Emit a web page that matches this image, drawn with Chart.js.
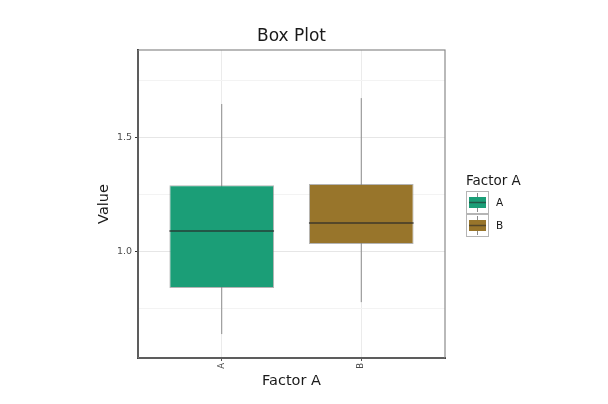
<!DOCTYPE html>
<html>
<head>
<meta charset="utf-8">
<script src="https://cdn.jsdelivr.net/npm/chart.js@4/dist/chart.umd.min.js"></script>
<style>
  html, body { margin: 0; padding: 0; background: #fff; }
  #wrap { width: 608px; height: 404px; }
</style>
</head>
<body>
<div id="wrap"><canvas id="chart"></canvas></div>
<script>
// box plot data
const categories = ['A', 'B'];
const mins = [0.636, 0.776];
const q1s = [0.838, 1.031];
const medians = [1.088, 1.123];
const q3s = [1.289, 1.294];
const maxs = [1.645, 1.671];
const fills = ['#1b9e77', '#98752b'];

const yTicks = [0.75, 1.0, 1.25, 1.5, 1.75];
const yLabels = [1.0, 1.5];

const halfBox = 0.375;
const isMajor = v => yLabels.some(l => Math.abs(l - v) < 1e-9);

// whisker and median segments, separated by null gaps
const whiskers = [];
const medianLines = [];
categories.forEach((c, i) => {
  const x = i + 1;
  whiskers.push({ x: x, y: mins[i] }, { x: x, y: maxs[i] }, { x: x + 0.5, y: null });
  medianLines.push({ x: x - halfBox, y: medians[i] }, { x: x + halfBox, y: medians[i] }, { x: x + 0.5, y: null });
});

const panelBorder = {
  id: 'panelBorder',
  beforeDatasetsDraw(chart) {
    const { ctx, chartArea: a } = chart;
    ctx.save();
    ctx.strokeStyle = '#8a8a8a';
    ctx.lineWidth = 1.2;
    ctx.strokeRect(a.left, a.top, a.right - a.left, a.bottom - a.top);
    ctx.restore();
  }
};

const sideLegend = {
  id: 'sideLegend',
  afterDraw(chart) {
    const ctx = chart.ctx;
    ctx.save();
    ctx.fillStyle = '#1a1a1a';
    ctx.font = '13.5px "DejaVu Sans"';
    ctx.textBaseline = 'alphabetic';
    ctx.fillText('Factor A', 466, 185);
    categories.forEach((c, i) => {
      const top = 191 + i * 23;
      ctx.strokeStyle = '#b5b5b5';
      ctx.lineWidth = 1;
      ctx.strokeRect(466.5, top + 0.5, 22, 22);
      ctx.strokeStyle = '#8a8a8a';
      ctx.beginPath();
      ctx.moveTo(477.5, top + 2);
      ctx.lineTo(477.5, top + 21);
      ctx.stroke();
      ctx.fillStyle = fills[i];
      ctx.fillRect(469, top + 6, 17, 11);
      ctx.strokeStyle = 'rgba(40,40,40,0.6)';
      ctx.lineWidth = 1.5;
      ctx.beginPath();
      ctx.moveTo(469, top + 11.5);
      ctx.lineTo(486, top + 11.5);
      ctx.stroke();
      ctx.fillStyle = '#1a1a1a';
      ctx.font = '10.5px "DejaVu Sans"';
      ctx.textBaseline = 'middle';
      ctx.fillText(c, 496, top + 12);
    });
    ctx.restore();
  }
};

const ctx = document.getElementById('chart').getContext('2d');
new Chart(ctx, {
  data: {
    datasets: [
      {
        type: 'line',
        data: whiskers,
        borderColor: '#8c8c8c',
        borderWidth: 1,
        pointRadius: 0,
        spanGaps: false,
        order: 3
      },
      {
        type: 'bar',
        data: categories.map((c, i) => ({ x: i + 1, y: [q1s[i], q3s[i]] })),
        backgroundColor: fills,
        borderColor: 'rgba(130,130,130,0.6)',
        borderWidth: 1,
        borderSkipped: false,
        barPercentage: 0.75,
        categoryPercentage: 1,
        grouped: false,
        order: 2
      },
      {
        type: 'line',
        data: medianLines,
        borderColor: 'rgba(40,40,40,0.6)',
        borderWidth: 2,
        pointRadius: 0,
        spanGaps: false,
        order: 1
      }
    ]
  },
  options: {
    responsive: true,
    maintainAspectRatio: false,
    animation: false,
    layout: { padding: { left: 0, right: 163, top: 0, bottom: 0 } },
    plugins: {
      legend: { display: false },
      tooltip: { enabled: false },
      title: {
        display: true,
        text: 'Box Plot',
        fullSize: false,
        color: '#1a1a1a',
        font: { family: 'DejaVu Sans', size: 17, weight: 'normal' },
        padding: { top: 26, bottom: 3.6 }
      }
    },
    scales: {
      x: {
        type: 'linear',
        min: 0.4,
        max: 2.6,
        offset: false,
        afterBuildTicks: s => { s.ticks = categories.map((c, i) => ({ value: i + 1 })); },
        afterFit: s => { s.height = 46; },
        ticks: {
          callback: v => categories[Math.round(v) - 1],
          minRotation: 90,
          maxRotation: 90,
          padding: 2,
          color: '#4d4d4d',
          font: { family: 'DejaVu Sans', size: 8.5 }
        },
        grid: { offset: false, color: '#ebebeb', tickColor: '#555', tickLength: 3, lineWidth: 1 },
        border: { display: true, color: '#1a1a1a', width: 2 },
        title: {
          display: true,
          text: 'Factor A',
          color: '#1a1a1a',
          font: { family: 'DejaVu Sans', size: 14.5 },
          padding: { top: 0, bottom: 14 }
        }
      },
      y: {
        type: 'linear',
        min: 0.531,
        max: 1.882,
        afterBuildTicks: s => { s.ticks = yTicks.map(v => ({ value: v })); },
        afterFit: s => { s.width = 138; },
        ticks: {
          callback: v => (isMajor(v) ? v.toFixed(1) : ''),
          padding: 3,
          color: '#4d4d4d',
          font: { family: 'DejaVu Sans', size: 9.5 }
        },
        grid: {
          color: c => (isMajor(c.tick.value) ? '#e6e6e6' : '#f3f3f3'),
          tickColor: c => (isMajor(c.tick.value) ? '#333' : 'rgba(0,0,0,0)'),
          tickLength: 3,
          lineWidth: 1
        },
        border: { display: true, color: '#1a1a1a', width: 2 },
        title: {
          display: true,
          text: 'Value',
          color: '#1a1a1a',
          font: { family: 'DejaVu Sans', size: 14.5 },
          padding: { top: 96, bottom: 0 }
        }
      }
    }
  },
  plugins: [panelBorder, sideLegend]
});
</script>
</body>
</html>
